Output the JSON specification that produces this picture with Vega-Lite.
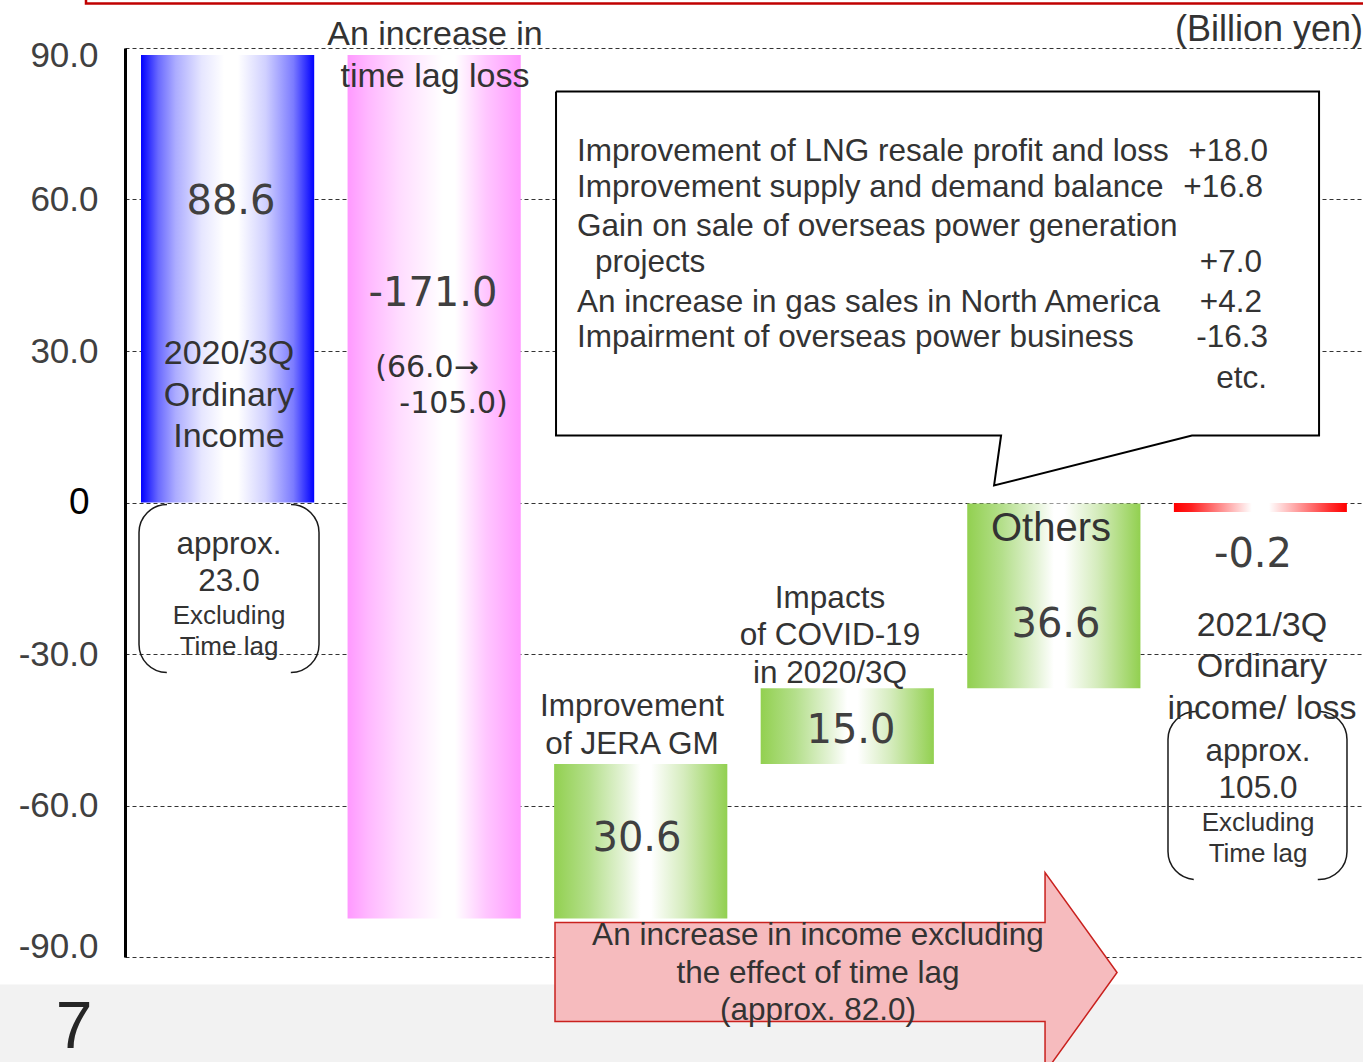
{
  "$schema": "https://vega.github.io/schema/vega-lite/v6.json",
  "width": 1238,
  "height": 909,
  "autosize": {"type": "none"},
  "padding": {"left": 125, "top": 48, "right": 0, "bottom": 105},
  "background": "white",
  "config": {"view": {"stroke": null}, "text": {"font": "Liberation Sans"}},
  "datasets": {
    "bars": [
      {"item": "2020/3Q Ordinary Income", "kind": "start", "value": 88.6, "start": 0, "end": 88.6},
      {"item": "Time lag loss", "kind": "decrease", "value": -171.0, "start": 88.6, "end": -82.4},
      {"item": "JERA GM", "kind": "increase", "value": 30.6, "start": -82.4, "end": -51.8},
      {"item": "COVID-19", "kind": "increase", "value": 15.0, "start": -51.8, "end": -36.8},
      {"item": "Others", "kind": "increase", "value": 36.6, "start": -36.8, "end": -0.2},
      {"item": "2021/3Q Ordinary income/ loss", "kind": "end", "value": -0.2, "start": 0, "end": -0.2}
    ],
    "boxes": [
      {"kind": "footer", "ax": -0.7, "ax2": 6.2, "ay": -95.45, "ay2": -120},
      {"kind": "frame", "ax": -0.189, "ax2": 6.3, "ay": 98.8, "ay2": 110},
      {"kind": "callout", "ax": 2.089, "ax2": 5.787, "ay": 81.39, "ay2": 13.27},
      {"kind": "bracket", "ax": 0.0679, "ax2": 0.9403, "ay": -0.396, "ay2": -33.66},
      {"kind": "bracket", "ax": 5.0549, "ax2": 5.9224, "ay": -41.39, "ay2": -74.65}
    ],
    "outline": [
      {"o": 1, "ax": 2.089, "ay": 81.39},
      {"o": 2, "ax": 5.787, "ay": 81.39},
      {"o": 3, "ax": 5.787, "ay": 13.27},
      {"o": 4, "ax": 5.171, "ay": 13.27},
      {"o": 5, "ax": 4.212, "ay": 3.37},
      {"o": 6, "ax": 4.246, "ay": 13.27},
      {"o": 7, "ax": 2.089, "ay": 13.27},
      {"o": 8, "ax": 2.089, "ay": 81.39}
    ],
    "arrow": [
      {"ax": 2.084, "ay": -83.17, "ay2": -102.77},
      {"ax": 4.459, "ay": -83.17, "ay2": -102.77},
      {"ax": 4.459, "ay": -73.27, "ay2": -112.87},
      {"ax": 4.808, "ay": -93.07, "ay2": -93.07}
    ],
    "texts": [
      {"role": "num", "ax": 0.5137, "ay": 59.6, "text": "88.6"},
      {"role": "num", "ax": 1.4927, "ay": 41.19, "text": "-171.0"},
      {"role": "num", "ax": 2.4814, "ay": -66.73, "text": "30.6"},
      {"role": "num", "ax": 3.5186, "ay": -45.15, "text": "15.0"},
      {"role": "num", "ax": 4.5121, "ay": -24.16, "text": "36.6"},
      {"role": "num", "ax": 5.4669, "ay": -10.3, "text": "-0.2"},
      {"role": "big", "ax": 1.5024, "ay": 92.48, "text": "An increase in\ntime lag loss"},
      {"role": "big", "ax": 0.504, "ay": 29.31, "text": "2020/3Q\nOrdinary\nIncome"},
      {"role": "big", "ax": 5.5105, "ay": -24.36, "text": "2021/3Q\nOrdinary\nincome/ loss"},
      {"role": "large", "ax": 4.4879, "ay": -5.15, "text": "Others"},
      {"role": "mid", "ax": 2.4572, "ay": -40.59, "text": "Improvement\nof JERA GM"},
      {"role": "mid", "ax": 3.4168, "ay": -19.01, "text": "Impacts\nof COVID-19\nin 2020/3Q"},
      {"role": "mid", "ax": 0.504, "ay": -8.32, "text": "approx.\n23.0"},
      {"role": "mid", "ax": 5.4911, "ay": -49.31, "text": "approx.\n105.0"},
      {"role": "mid", "ax": 3.3586, "ay": -85.94, "text": "An increase in income excluding\nthe effect of time lag\n(approx. 82.0)"},
      {"role": "small", "ax": 0.504, "ay": -22.57, "text": "Excluding\nTime lag"},
      {"role": "small", "ax": 5.4911, "ay": -63.56, "text": "Excluding\nTime lag"},
      {"role": "note", "ax": 1.4637, "ay": 26.73, "text": "(66.0→"},
      {"role": "note", "ax": 1.5921, "ay": 19.41, "text": "-105.0)"},
      {"role": "callout", "ax": 2.1906, "ay": 69.5, "text": "Improvement of LNG resale profit and loss"},
      {"role": "callout", "ax": 2.1906, "ay": 62.18, "text": "Improvement supply and demand balance"},
      {"role": "callout", "ax": 2.1906, "ay": 54.46, "text": "Gain on sale of overseas power generation"},
      {"role": "callout", "ax": 2.2779, "ay": 47.52, "text": "projects"},
      {"role": "callout", "ax": 2.1906, "ay": 39.6, "text": "An increase in gas sales in North America"},
      {"role": "callout", "ax": 2.1906, "ay": 32.48, "text": "Impairment of overseas power business"},
      {"role": "calloutval", "ax": 5.5396, "ay": 69.5, "text": "+18.0"},
      {"role": "calloutval", "ax": 5.5153, "ay": 62.18, "text": "+16.8"},
      {"role": "calloutval", "ax": 5.5105, "ay": 47.52, "text": "+7.0"},
      {"role": "calloutval", "ax": 5.5105, "ay": 39.6, "text": "+4.2"},
      {"role": "calloutval", "ax": 5.5396, "ay": 32.48, "text": "-16.3"},
      {"role": "calloutval", "ax": 5.5347, "ay": 24.55, "text": "etc."},
      {"role": "unit", "ax": 6.0, "ay": 93.66, "text": "(Billion yen)"},
      {"role": "page", "ax": -0.2472, "ay": -104.0, "text": "7"}
    ]
  },
  "resolve": {"scale": {"x": "independent"}},
  "layer": [
    {
      "data": {"name": "bars"},
      "encoding": {
        "x": {
          "field": "item", "type": "nominal", "sort": null, "axis": null,
          "scale": {"paddingInner": 0.1615, "paddingOuter": 0.0775}
        }
      },
      "layer": [
        {
          "transform": [{"filter": "datum.kind == 'start'"}],
          "mark": {"type": "bar", "color": {"gradient": "linear", "x1": 0, "y1": 0, "x2": 1, "y2": 0, "stops": [
            {"offset": 0, "color": "#0000ff"}, {"offset": 0.1, "color": "#6a6aff"}, {"offset": 0.2, "color": "#acacff"},
            {"offset": 0.35, "color": "#e6e6ff"}, {"offset": 0.48, "color": "#ffffff"}, {"offset": 0.56, "color": "#ffffff"},
            {"offset": 0.72, "color": "#d0d0ff"}, {"offset": 0.88, "color": "#7b7bff"}, {"offset": 1, "color": "#0000ff"}]}},
          "encoding": {
            "y": {"field": "start", "type": "quantitative", "scale": {"domain": [-90, 90], "nice": false, "zero": false},
              "axis": {"values": [-90, -60, -30, 0, 30, 60, 90], "labelExpr": "datum.value == 0 ? '0' : replace(format(datum.value, '.1f'), '\u2212', '-')", "title": null, "ticks": false, "domainColor": "#000000", "domainWidth": 3, "grid": true, "gridColor": "#333333", "gridDash": [4, 3], "gridWidth": 1, "labelFont": "Liberation Sans", "labelFontSize": {"condition": {"test": "datum.value == 0", "value": 37}, "value": 35}, "labelColor": {"condition": {"test": "datum.value == 0", "value": "#000000"}, "value": "#404040"}, "labelPadding": {"condition": {"test": "datum.value == 0", "value": 36}, "value": 27}, "labelOffset": {"condition": [{"test": "datum.value == 90", "value": 7}, {"test": "datum.value == -90", "value": -11}], "value": 0}, "labelFlush": false, "labelOverlap": false}},
            "y2": {"field": "end"}
          }
        },
        {
          "transform": [{"filter": "datum.kind == 'decrease'"}],
          "mark": {"type": "bar", "color": {"gradient": "linear", "x1": 0, "y1": 0, "x2": 1, "y2": 0, "stops": [
            {"offset": 0, "color": "#ff99ff"}, {"offset": 0.12, "color": "#ffb8ff"}, {"offset": 0.3, "color": "#ffdcff"},
            {"offset": 0.55, "color": "#ffffff"}, {"offset": 0.62, "color": "#ffffff"}, {"offset": 0.8, "color": "#ffc6ff"},
            {"offset": 1, "color": "#ff99ff"}]}},
          "encoding": {
            "y": {"field": "start", "type": "quantitative", "scale": {"domain": [-90, 90], "nice": false, "zero": false},
              "axis": {"values": [-90, -60, -30, 0, 30, 60, 90], "labelExpr": "datum.value == 0 ? '0' : replace(format(datum.value, '.1f'), '\u2212', '-')", "title": null, "ticks": false, "domainColor": "#000000", "domainWidth": 3, "grid": true, "gridColor": "#333333", "gridDash": [4, 3], "gridWidth": 1, "labelFont": "Liberation Sans", "labelFontSize": {"condition": {"test": "datum.value == 0", "value": 37}, "value": 35}, "labelColor": {"condition": {"test": "datum.value == 0", "value": "#000000"}, "value": "#404040"}, "labelPadding": {"condition": {"test": "datum.value == 0", "value": 36}, "value": 27}, "labelOffset": {"condition": [{"test": "datum.value == 90", "value": 7}, {"test": "datum.value == -90", "value": -11}], "value": 0}, "labelFlush": false, "labelOverlap": false}},
            "y2": {"field": "end"}
          }
        },
        {
          "transform": [{"filter": "datum.kind == 'increase'"}],
          "mark": {"type": "bar", "color": {"gradient": "linear", "x1": 0, "y1": 0, "x2": 1, "y2": 0, "stops": [
            {"offset": 0, "color": "#92d050"}, {"offset": 0.2, "color": "#b4df8b"}, {"offset": 0.4, "color": "#e4f3d6"},
            {"offset": 0.5, "color": "#ffffff"}, {"offset": 0.56, "color": "#ffffff"}, {"offset": 0.75, "color": "#d5ecbd"},
            {"offset": 1, "color": "#92d050"}]}},
          "encoding": {
            "y": {"field": "start", "type": "quantitative", "scale": {"domain": [-90, 90], "nice": false, "zero": false},
              "axis": {"values": [-90, -60, -30, 0, 30, 60, 90], "labelExpr": "datum.value == 0 ? '0' : replace(format(datum.value, '.1f'), '\u2212', '-')", "title": null, "ticks": false, "domainColor": "#000000", "domainWidth": 3, "grid": true, "gridColor": "#333333", "gridDash": [4, 3], "gridWidth": 1, "labelFont": "Liberation Sans", "labelFontSize": {"condition": {"test": "datum.value == 0", "value": 37}, "value": 35}, "labelColor": {"condition": {"test": "datum.value == 0", "value": "#000000"}, "value": "#404040"}, "labelPadding": {"condition": {"test": "datum.value == 0", "value": 36}, "value": 27}, "labelOffset": {"condition": [{"test": "datum.value == 90", "value": 7}, {"test": "datum.value == -90", "value": -11}], "value": 0}, "labelFlush": false, "labelOverlap": false}},
            "y2": {"field": "end"}
          }
        },
        {
          "transform": [{"filter": "datum.kind == 'end'"}],
          "mark": {"type": "tick", "thickness": 9, "size": 173, "yOffset": 4, "opacity": 1, "color": {"gradient": "linear", "x1": 0, "y1": 0, "x2": 1, "y2": 0, "stops": [
            {"offset": 0, "color": "#ff0000"}, {"offset": 0.1, "color": "#ff2020"}, {"offset": 0.45, "color": "#ffffff"},
            {"offset": 0.55, "color": "#ffffff"}, {"offset": 0.9, "color": "#ff3030"}, {"offset": 1, "color": "#ff0000"}]}},
          "encoding": {
            "y": {"field": "end", "type": "quantitative", "scale": {"domain": [-90, 90], "nice": false, "zero": false},
              "axis": {"values": [-90, -60, -30, 0, 30, 60, 90], "labelExpr": "datum.value == 0 ? '0' : replace(format(datum.value, '.1f'), '\u2212', '-')", "title": null, "ticks": false, "domainColor": "#000000", "domainWidth": 3, "grid": true, "gridColor": "#333333", "gridDash": [4, 3], "gridWidth": 1, "labelFont": "Liberation Sans", "labelFontSize": {"condition": {"test": "datum.value == 0", "value": 37}, "value": 35}, "labelColor": {"condition": {"test": "datum.value == 0", "value": "#000000"}, "value": "#404040"}, "labelPadding": {"condition": {"test": "datum.value == 0", "value": 36}, "value": 27}, "labelOffset": {"condition": [{"test": "datum.value == 90", "value": 7}, {"test": "datum.value == -90", "value": -11}], "value": 0}, "labelFlush": false, "labelOverlap": false}}
          }
        }
      ]
    },
    {
      "encoding": {
        "x": {"field": "ax", "type": "quantitative", "scale": {"domain": [0, 6], "nice": false, "zero": false}, "axis": null},
        "y": {"field": "ay", "type": "quantitative", "scale": {"domain": [-90, 90], "nice": false, "zero": false},
          "axis": {"values": [-90, -60, -30, 0, 30, 60, 90], "labelExpr": "datum.value == 0 ? '0' : replace(format(datum.value, '.1f'), '\u2212', '-')", "title": null, "ticks": false, "domainColor": "#000000", "domainWidth": 3, "grid": true, "gridColor": "#333333", "gridDash": [4, 3], "gridWidth": 1, "labelFont": "Liberation Sans", "labelFontSize": {"condition": {"test": "datum.value == 0", "value": 37}, "value": 35}, "labelColor": {"condition": {"test": "datum.value == 0", "value": "#000000"}, "value": "#404040"}, "labelPadding": {"condition": {"test": "datum.value == 0", "value": 36}, "value": 27}, "labelOffset": {"condition": [{"test": "datum.value == 90", "value": 7}, {"test": "datum.value == -90", "value": -11}], "value": 0}, "labelFlush": false, "labelOverlap": false}}
      },
      "layer": [
        {
          "data": {"name": "boxes"},
          "transform": [{"filter": "datum.kind == 'footer'"}],
          "mark": {"type": "rect", "color": "#f2f2f2"},
          "encoding": {"x2": {"field": "ax2"}, "y2": {"field": "ay2"}}
        },
        {
          "data": {"name": "boxes"},
          "transform": [{"filter": "datum.kind == 'frame'"}],
          "mark": {"type": "rect", "fillOpacity": 0, "stroke": "#c00000", "strokeWidth": 2.5},
          "encoding": {"x2": {"field": "ax2"}, "y2": {"field": "ay2"}}
        },
        {
          "data": {"name": "arrow"},
          "mark": {"type": "area", "orient": "vertical", "fill": "#f6bbbe", "stroke": "#c9211e", "strokeWidth": 1.5, "opacity": 1},
          "encoding": {"y2": {"field": "ay2"}}
        },
        {
          "data": {"name": "boxes"},
          "transform": [{"filter": "datum.kind == 'callout'"}],
          "mark": {"type": "rect", "color": "#ffffff"},
          "encoding": {"x2": {"field": "ax2"}, "y2": {"field": "ay2"}}
        },
        {
          "data": {"name": "outline"},
          "mark": {"type": "line", "color": "#000000", "strokeWidth": 2, "strokeJoin": "miter"},
          "encoding": {"order": {"field": "o"}}
        },
        {
          "data": {"name": "boxes"},
          "transform": [{"filter": "datum.kind == 'bracket'"}],
          "mark": {"type": "rect", "fillOpacity": 0, "stroke": "#1a1a1a", "strokeWidth": 1.5, "cornerRadius": 28, "strokeDash": [0, 124, 200, 124, 200, 0]},
          "encoding": {"x2": {"field": "ax2"}, "y2": {"field": "ay2"}}
        },
        {
          "data": {"name": "texts"},
          "transform": [{"filter": "datum.role == 'num'"}],
          "mark": {"type": "text", "font": "DejaVu Sans", "fontSize": 40, "fill": "#404040", "baseline": "middle", "align": "center"},
          "encoding": {"text": {"field": "text", "type": "nominal"}}
        },
        {
          "data": {"name": "texts"},
          "transform": [{"filter": "datum.role == 'big'"}],
          "mark": {"type": "text", "font": "Liberation Sans", "fontSize": 34, "lineHeight": 41.5, "fill": "#333333", "baseline": "middle", "align": "center", "lineBreak": "\n"},
          "encoding": {"text": {"field": "text", "type": "nominal"}}
        },
        {
          "data": {"name": "texts"},
          "transform": [{"filter": "datum.role == 'large'"}],
          "mark": {"type": "text", "font": "Liberation Sans", "fontSize": 40, "fill": "#333333", "baseline": "middle", "align": "center"},
          "encoding": {"text": {"field": "text", "type": "nominal"}}
        },
        {
          "data": {"name": "texts"},
          "transform": [{"filter": "datum.role == 'mid'"}],
          "mark": {"type": "text", "font": "Liberation Sans", "fontSize": 31.5, "lineHeight": 37.5, "fill": "#333333", "baseline": "middle", "align": "center", "lineBreak": "\n"},
          "encoding": {"text": {"field": "text", "type": "nominal"}}
        },
        {
          "data": {"name": "texts"},
          "transform": [{"filter": "datum.role == 'small'"}],
          "mark": {"type": "text", "font": "Liberation Sans", "fontSize": 26, "lineHeight": 31, "fill": "#333333", "baseline": "middle", "align": "center", "lineBreak": "\n"},
          "encoding": {"text": {"field": "text", "type": "nominal"}}
        },
        {
          "data": {"name": "texts"},
          "transform": [{"filter": "datum.role == 'note'"}],
          "mark": {"type": "text", "font": "DejaVu Sans", "fontSize": 30, "fill": "#333333", "baseline": "middle", "align": "center"},
          "encoding": {"text": {"field": "text", "type": "nominal"}}
        },
        {
          "data": {"name": "texts"},
          "transform": [{"filter": "datum.role == 'callout'"}],
          "mark": {"type": "text", "font": "Liberation Sans", "fontSize": 31.5, "fill": "#333333", "baseline": "middle", "align": "left"},
          "encoding": {"text": {"field": "text", "type": "nominal"}}
        },
        {
          "data": {"name": "texts"},
          "transform": [{"filter": "datum.role == 'calloutval'"}],
          "mark": {"type": "text", "font": "Liberation Sans", "fontSize": 31.5, "fill": "#333333", "baseline": "middle", "align": "right"},
          "encoding": {"text": {"field": "text", "type": "nominal"}}
        },
        {
          "data": {"name": "texts"},
          "transform": [{"filter": "datum.role == 'unit'"}],
          "mark": {"type": "text", "font": "Liberation Sans", "fontSize": 36, "fill": "#333333", "baseline": "middle", "align": "right"},
          "encoding": {"text": {"field": "text", "type": "nominal"}}
        },
        {
          "data": {"name": "texts"},
          "transform": [{"filter": "datum.role == 'page'"}],
          "mark": {"type": "text", "font": "Liberation Sans", "fontSize": 66, "fill": "#262626", "baseline": "middle", "align": "center"},
          "encoding": {"text": {"field": "text", "type": "nominal"}}
        }
      ]
    }
  ]
}
